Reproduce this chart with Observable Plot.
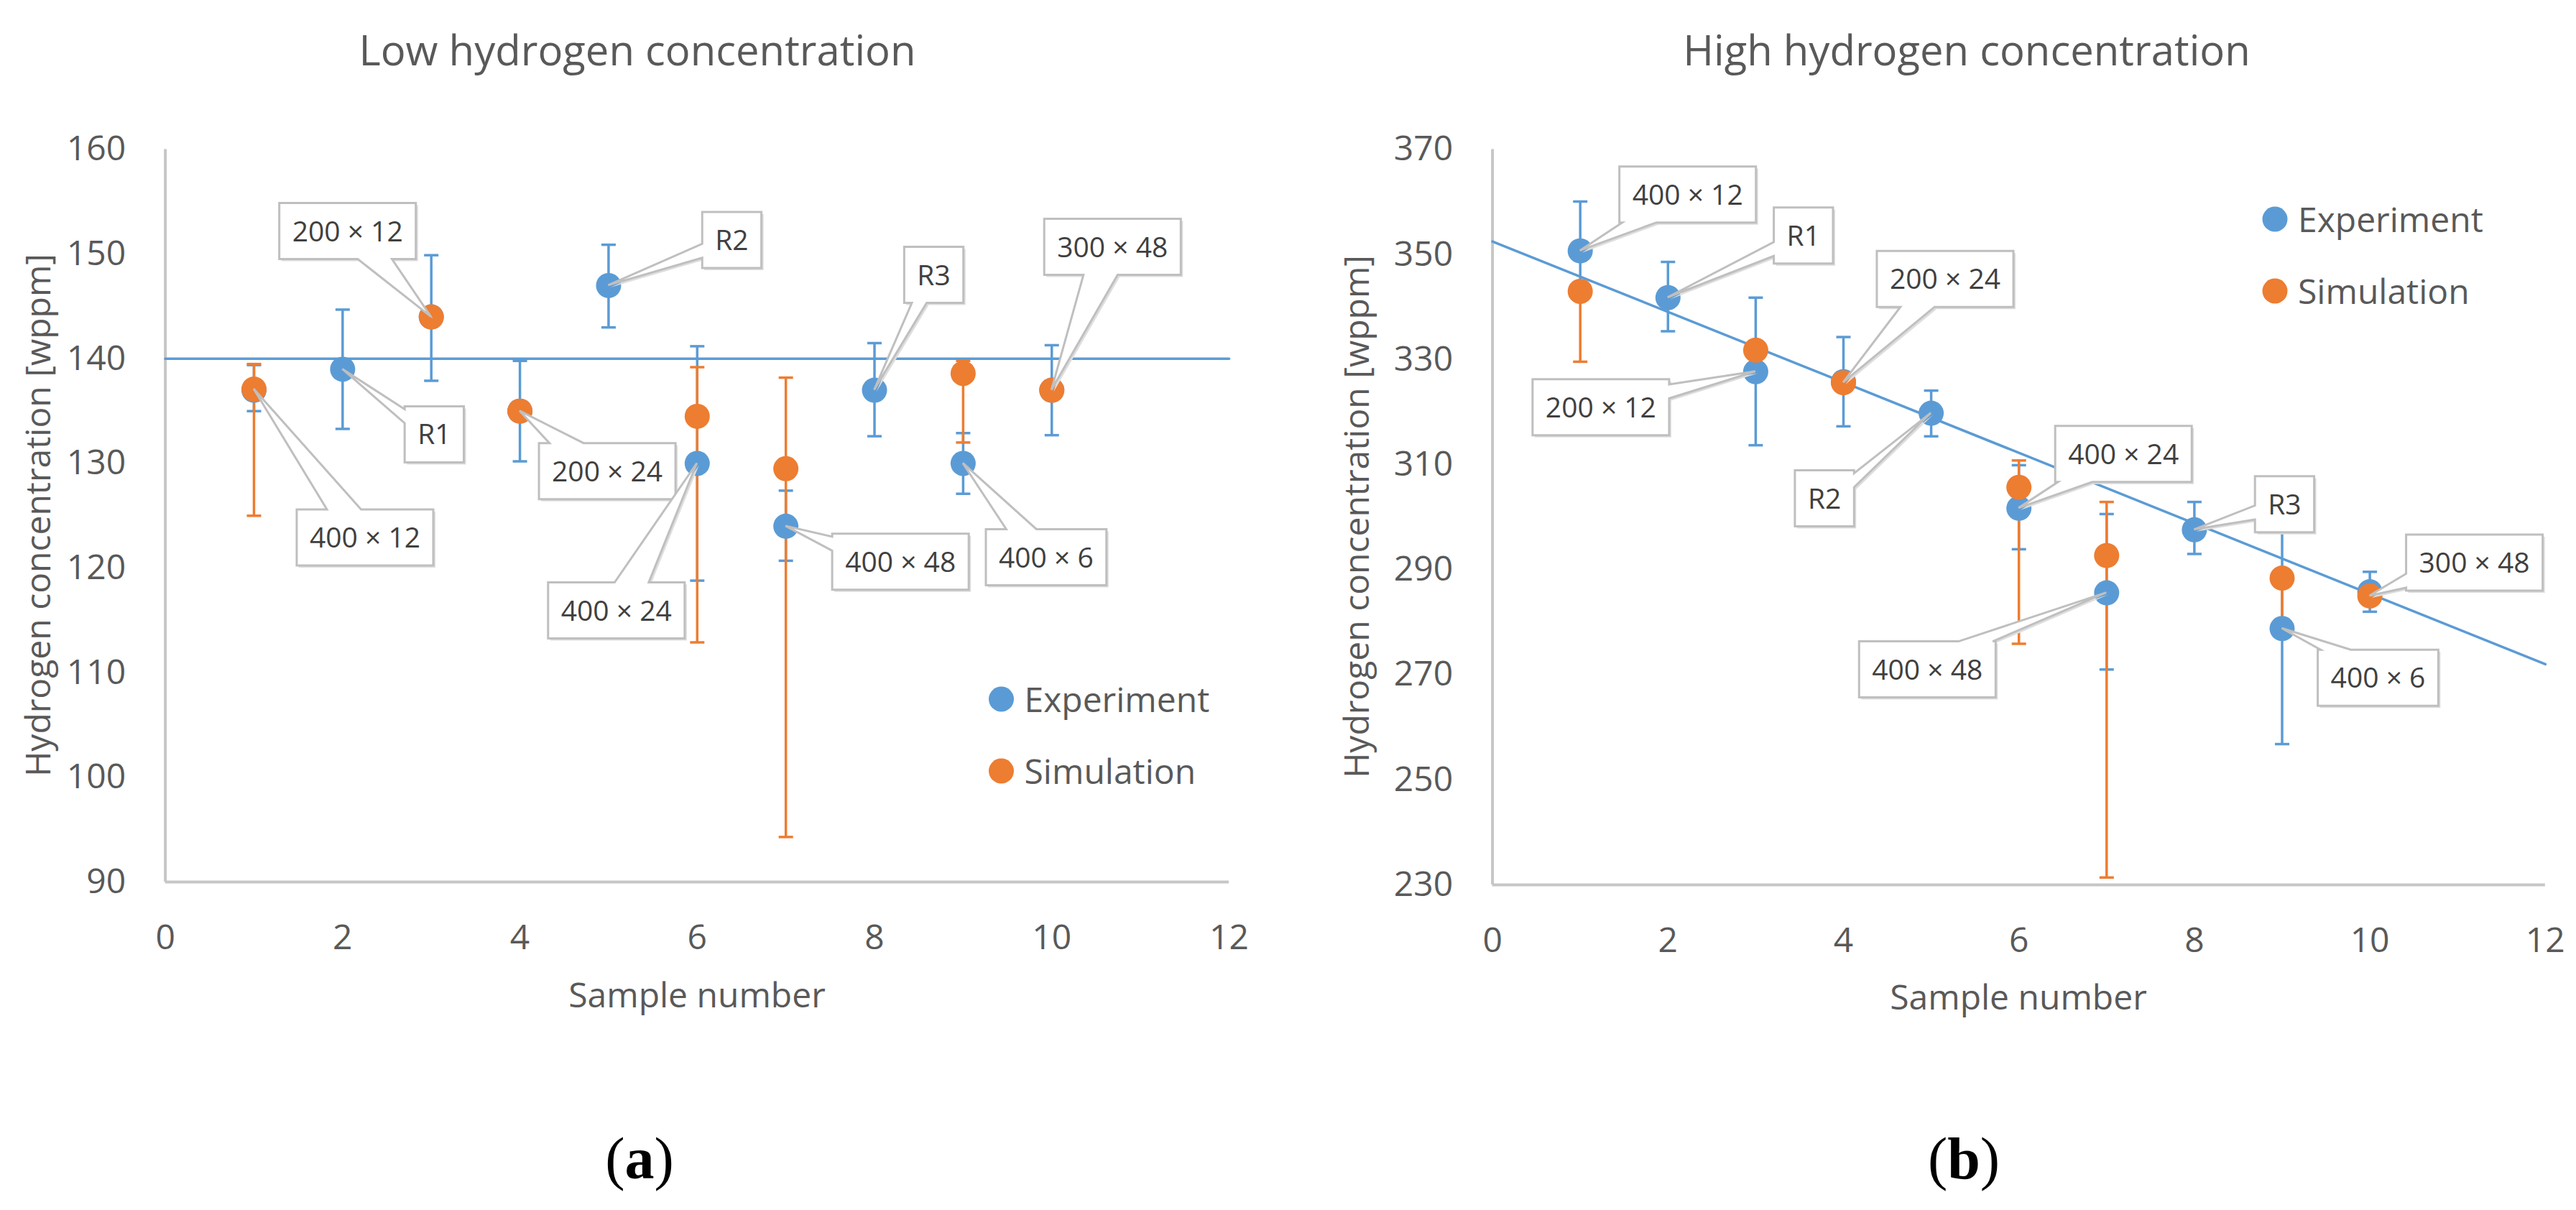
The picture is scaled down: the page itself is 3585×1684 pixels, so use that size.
<!DOCTYPE html>
<html>
<head>
<meta charset="utf-8">
<script src="https://cdn.jsdelivr.net/npm/d3@7"></script>
<script src="https://cdn.jsdelivr.net/npm/@observablehq/plot@0.6"></script>
<style>
  html, body { margin: 0; padding: 0; background: #fff; }
  #page { position: relative; width: 3585px; height: 1684px; overflow: hidden; }
  #page > svg { position: absolute; top: 0; }
</style>
</head>
<body>
<div id="page"></div>
<script>
"use strict";

// sample numbers, and the ones that also have a simulation
const samples = [1, 2, 3, 4, 5, 6, 7, 8, 9, 10]
const simSamples = [1, 3, 4, 6, 7, 9, 10]

// heat treatment (°C × h) or reference, per sample
const sampleLabels = ["400 × 12", "R1", "200 × 12", "200 × 24", "R2", "400 × 24", "400 × 48", "R3", "400 × 6", "300 × 48"]

// low hydrogen concentration [wppm]
const lowExp = [137, 139, 144, 135, 147, 130, 124, 137, 130, 137]
const lowExpLo = [135.0, 133.3, 137.9, 130.2, 143.0, 118.8, 120.7, 132.6, 127.1, 132.7]
const lowExpHi = [139.4, 144.7, 149.9, 139.8, 150.9, 141.2, 127.4, 141.5, 132.9, 141.3]
const lowSim = [137.1, 144, 135, 134.5, 129.5, 138.6, 137]
const lowSimLo = [125.0, null, null, 112.9, 94.3, 132.0, null]
const lowSimHi = [139.5, null, null, 139.2, 138.2, 139.8, null]
const lowLine = [140, 140]
const lowAnchor = ["sim", "exp", "sim", "sim", "exp", "exp", "exp", "exp", "exp", "sim"]

// high hydrogen concentration [wppm]
const highExp = [350.7, 341.8, 327.7, 325.8, 319.8, 301.7, 285.6, 297.6, 278.8, 285.8]
const highExpLo = [341.3, 335.4, 313.7, 317.3, 315.4, 293.9, 271.0, 293.0, 256.8, 282.0]
const highExpHi = [360.1, 348.6, 341.8, 334.3, 324.1, 309.9, 300.6, 302.9, 300.8, 289.6]
const highSim = [343.0, 331.8, 325.6, 305.7, 292.7, 288.4, 285.0]
const highSimLo = [329.6, null, null, 275.9, 231.4, 280.5, null]
const highSimHi = [343.0, null, null, 310.8, 302.9, 288.4, null]
const highLine = [352.5, 272.0]
const highAnchor = ["exp", "exp", "exp", "sim", "exp", "exp", "exp", "exp", "exp", "sim"]

// line ends (sample number)
const lineX = [0, 12]
const xTicks = [0, 2, 4, 6, 8, 10, 12]
const lowTicks = [90, 100, 110, 120, 130, 140, 150, 160]
const highTicks = [230, 250, 270, 290, 310, 330, 350, 370]

// layout: callout box centre, px offset from its point
const lowOffsets = [[155, 207], [128, 91], [-116, -119], [122, 84], [172, -63], [-112, 205], [160, 50], [83, -160], [116, 131], [85, -199]]
const highOffsets = [[150, -78], [189, -86], [-215, 50], [142, -144], [-148, 119], [146, -75], [-249, 107], [126, -35], [134, 69], [146, -46]]

const BLUE = "#5b9bd5"
const ORANGE = "#ed7d31"
const GREY_TEXT = "#595959"
const AXIS = "#c6c6c6"
const FONT = "Open Sans"
const W = 3585, H = 1684

const page = document.querySelector("#page")

// horizontal cap for the error bars
const capSymbol = {
   draw(ctx, size) {
      const r = Math.sqrt(size / Math.PI)
      ctx.moveTo(-r, 0)
      ctx.lineTo(r, 0)
   }
}

const measure = document.createElement("canvas").getContext("2d")
function textWidth(s, size) {
   measure.font = `${size}px "${FONT}"`
   return measure.measureText(s).width
}

// excel style wedge callouts: box with a pointer to the point
function callouts(rows) {
   const fs = 39, boxH = 78, padX = 18
   return (index, scales) => {
      const g = d3.create("svg:g")
      for (const d of rows) {
         const px = scales.x(d.n), py = scales.y(d.v)
         const cx = px + d.dx, cy = py + d.dy
         const w = textWidth(d.text, fs) + 2 * padX, h = boxH
         const x0 = cx - w / 2, x1 = cx + w / 2, y0 = cy - h / 2, y1 = cy + h / 2
         const vx = px - cx, vy = py - cy
         let side
         if (Math.abs(vx) * h > Math.abs(vy) * w) side = vx > 0 ? "right" : "left"
         else side = vy > 0 ? "bottom" : "top"
         const pts = [[x0, y0]]
         if (side == "top" || side == "bottom") {
            const half = w * 0.125
            let ix = cx + vx * (h / 2) / Math.abs(vy)
            ix = Math.max(x0 + half + 4, Math.min(x1 - half - 4, ix))
            if (side == "top") pts.push([ix - half, y0], [px, py], [ix + half, y0])
            pts.push([x1, y0], [x1, y1])
            if (side == "bottom") pts.push([ix + half, y1], [px, py], [ix - half, y1])
            pts.push([x0, y1])
         } else {
            const half = h * 0.125
            let iy = cy + vy * (w / 2) / Math.abs(vx)
            iy = Math.max(y0 + half + 4, Math.min(y1 - half - 4, iy))
            pts.push([x1, y0])
            if (side == "right") pts.push([x1, iy - half], [px, py], [x1, iy + half])
            pts.push([x1, y1], [x0, y1])
            if (side == "left") pts.push([x0, iy + half], [px, py], [x0, iy - half])
         }
         const path = "M" + pts.map(p => p.join(",")).join("L") + "Z"
         g.append("path").attr("d", path).attr("fill", "#dedede").attr("transform", "translate(3,3)")
         g.append("path").attr("d", path).attr("fill", "#fff").attr("stroke", "#bfbfbf").attr("stroke-width", 3).attr("stroke-linejoin", "miter")
         g.append("text")
            .attr("x", cx).attr("y", cy + fs * 0.36)
            .attr("text-anchor", "middle")
            .attr("font-size", fs)
            .attr("fill", "#404040")
            .text(d.text)
      }
      return g.node()
   }
}

function chart(o) {
   const expRows = samples.map((n, i) => ({n, v: o.exp[i], lo: o.expLo[i], hi: o.expHi[i]}))
   const simRows = simSamples.map((n, i) => ({n, v: o.sim[i], lo: o.simLo[i], hi: o.simHi[i]}))
   const simBars = simRows.filter(d => d.lo != null)
   const lineRows = lineX.map((x, i) => ({x, y: o.line[i]}))
   const labelRows = samples.map((n, i) => ({
      n,
      text: sampleLabels[i],
      v: o.anchor[i] == "sim" ? o.sim[simSamples.indexOf(n)] : o.exp[i],
      dx: o.offsets[i][0],
      dy: o.offsets[i][1]
   }))

   const plot = Plot.plot({
      width: o.width,
      height: H,
      marginTop: o.top,
      marginBottom: H - o.bottom,
      marginLeft: o.left,
      marginRight: o.width - o.right,
      style: {fontFamily: FONT, fontSize: "48px", color: GREY_TEXT, background: "none", overflow: "visible"},
      x: {domain: [0, 12], ticks: xTicks, tickSize: 0, tickPadding: 59, label: null},
      y: {domain: o.yDomain, ticks: o.yTicks, tickSize: 0, tickPadding: 55, label: null},
      marks: [
         Plot.ruleX([0], {stroke: AXIS, strokeWidth: 4}),
         Plot.ruleY([o.yDomain[0]], {stroke: AXIS, strokeWidth: 4}),
         Plot.line(lineRows, {x: "x", y: "y", stroke: BLUE, strokeWidth: 3.5}),
         Plot.ruleX(expRows, {x: "n", y1: "lo", y2: "hi", stroke: BLUE, strokeWidth: 3.5}),
         Plot.dot(expRows, {x: "n", y: "lo", symbol: capSymbol, r: 10, stroke: BLUE, strokeWidth: 3.5, fill: "none"}),
         Plot.dot(expRows, {x: "n", y: "hi", symbol: capSymbol, r: 10, stroke: BLUE, strokeWidth: 3.5, fill: "none"}),
         Plot.ruleX(simBars, {x: "n", y1: "lo", y2: "hi", stroke: ORANGE, strokeWidth: 3.5}),
         Plot.dot(simBars, {x: "n", y: "lo", symbol: capSymbol, r: 10, stroke: ORANGE, strokeWidth: 3.5, fill: "none"}),
         Plot.dot(simBars, {x: "n", y: "hi", symbol: capSymbol, r: 10, stroke: ORANGE, strokeWidth: 3.5, fill: "none"}),
         Plot.dot(expRows, {x: "n", y: "v", r: 17.5, fill: BLUE, stroke: null}),
         Plot.dot(simRows, {x: "n", y: "v", r: 17.5, fill: ORANGE, stroke: null}),
         callouts(labelRows)
      ]
   })
   plot.style.left = o.x + "px"
   page.append(plot)
}

chart({
   x: 0, width: 1790, left: 229.6, right: 1710, top: 207.6, bottom: 1227,
   exp: lowExp, expLo: lowExpLo, expHi: lowExpHi,
   sim: lowSim, simLo: lowSimLo, simHi: lowSimHi,
   line: lowLine, yDomain: [90, 160], yTicks: lowTicks,
   anchor: lowAnchor, offsets: lowOffsets
})

chart({
   x: 1790, width: 1795, left: 286.6, right: 1751.8, top: 207.6, bottom: 1231,
   exp: highExp, expLo: highExpLo, expHi: highExpHi,
   sim: highSim, simLo: highSimLo, simHi: highSimHi,
   line: highLine, yDomain: [230, 370], yTicks: highTicks,
   anchor: highAnchor, offsets: highOffsets
})

// titles, axis titles, legends and panel letters
const overlay = d3.create("svg")
   .attr("width", W).attr("height", H)
   .style("left", "0px")
   .attr("font-family", FONT)
   .attr("fill", GREY_TEXT)

function label(x, y, s, size, rotate) {
   overlay.append("text")
      .attr("transform", `translate(${x},${y})` + (rotate ? " rotate(-90)" : ""))
      .attr("text-anchor", "middle")
      .attr("font-size", size)
      .text(s)
}

label(887, 91, "Low hydrogen concentration", 58)
label(2737, 91, "High hydrogen concentration", 58)
label(70, 717, "Hydrogen concentration [wppm]", 48, true)
label(1905, 719, "Hydrogen concentration [wppm]", 48, true)
label(970, 1402, "Sample number", 48)
label(2809, 1405, "Sample number", 48)

function legend(x, y) {
   const items = [["Experiment", BLUE], ["Simulation", ORANGE]]
   items.forEach(([name, color], i) => {
      overlay.append("circle").attr("cx", x).attr("cy", y + i * 100).attr("r", 17.5).attr("fill", color)
      overlay.append("text").attr("x", x + 32).attr("y", y + i * 100 + 17.5).attr("font-size", 48).text(name)
   })
}
legend(1393.5, 973)
legend(3166, 305)

function panel(x, letter) {
   const t = overlay.append("text")
      .attr("x", x).attr("y", 1640)
      .attr("text-anchor", "middle")
      .attr("font-family", "Liberation Serif")
      .attr("font-size", 82)
      .attr("fill", "#000")
   t.append("tspan").text("(")
   t.append("tspan").attr("font-weight", "bold").text(letter)
   t.append("tspan").text(")")
}
panel(890, "a")
panel(2733, "b")

page.append(overlay.node())
</script>
</body>
</html>
